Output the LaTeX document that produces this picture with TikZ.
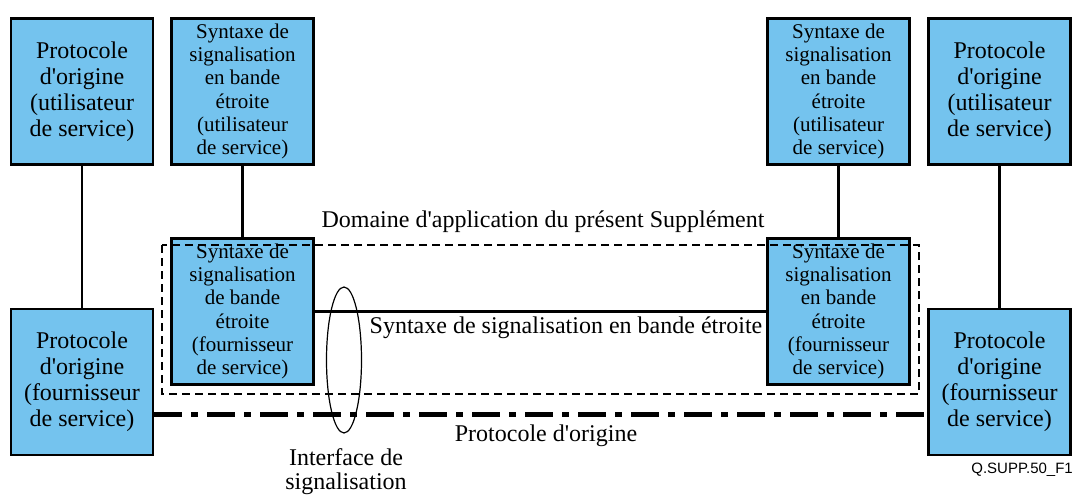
\documentclass[tikz,border=0pt]{standalone}
\usepackage{fontspec}
\setmainfont{Liberation Serif}[Ligatures = TeXOff]
\newfontfamily\refsans{Liberation Sans}
\definecolor{boxblue}{RGB}{116,195,238}
\tikzset{
	protobox/.style = {draw, line width = 2.5pt, fill = boxblue, minimum width = 142pt,
		minimum height = 146pt, inner sep = 0pt, align = center},
	syntbox/.style = {protobox, font = \fontsize{21}{23.3}\selectfont},
	link/.style = {line width = 2.5pt},
}

\begin{document}
\begin{tikzpicture}[x = 1pt, y = -1pt, font = \fontsize{24}{26}\selectfont]
		\useasboundingbox (0, 0) rectangle (1074, 495) ;
		% top row
		\node [protobox] (userL) at (82, 91.5) {Protocole\\d'origine\\(utilisateur\\de service)} ;
		\node [syntbox] (nbuserL) at (242.5, 91.5) {Syntaxe de\\signalisation\\en bande\\étroite\\(utilisateur\\de service)} ;
		\node [syntbox] (nbuserR) at (838.5, 91.5) {Syntaxe de\\signalisation\\en bande\\étroite\\(utilisateur\\de service)} ;
		\node [protobox] (userR) at (999.5, 91.5) {Protocole\\d'origine\\(utilisateur\\de service)} ;
		% lower row
		\node [protobox] (provL) at (82, 382) {Protocole\\d'origine\\(fournisseur\\de service)} ;
		\node [syntbox] (nbprovL) at (242.5, 311.5) {Syntaxe de\\signalisation\\de bande\\étroite\\(fournisseur\\de service)} ;
		\node [syntbox] (nbprovR) at (838.5, 311.5) {Syntaxe de\\signalisation\\en bande\\étroite\\(fournisseur\\de service)} ;
		\node [protobox] (provR) at (999.5, 382) {Protocole\\d'origine\\(fournisseur\\de service)} ;
		% links
		\draw [link] (userL) -- (provL) ;
		\draw [link] (nbuserL) -- (nbprovL) ;
		\draw [link] (nbuserR) -- (nbprovR) ;
		\draw [link] (userR) -- (provR) ;
		\draw [link] (nbprovL.east) -- (nbprovR.west) ;
		\draw [line width = 5pt, dash pattern = on 28pt off 9pt on 7pt off 9pt]
			([yshift = -32pt]provL.east) -- ([yshift = -32pt]provR.west) ;
		% scope of the supplement
		\draw [line width = 1.8pt, dash pattern = on 8pt off 5pt] (162, 245) rectangle (919, 394) ;
		\draw [line width = 1.2pt] (344, 360) ellipse [x radius = 17.5, y radius = 73] ;
		% labels
		\node (scopelabel) at (543, 222) {Domaine d'application du présent Supplément} ;
		\node (nblabel) at (566, 328) {Syntaxe de signalisation en bande étroite} ;
		\node (protolabel) at (546, 436) {Protocole d'origine} ;
		\node [align = center, font = \fontsize{24}{24}\selectfont] (iflabel) at (346, 472) {Interface de\\signalisation} ;
		\node [anchor = east, inner sep = 0pt, font = \refsans\fontsize{15}{17}\selectfont] (figref) at (1073, 470) {Q.SUPP.50\_F1} ;
	\end{tikzpicture}
\end{document}
